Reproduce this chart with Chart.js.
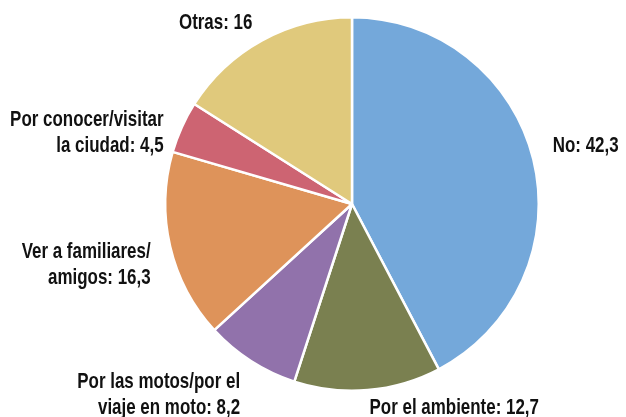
<!DOCTYPE html>
<html>
<head>
<meta charset="utf-8">
<script src="https://cdn.jsdelivr.net/npm/chart.js@4/dist/chart.umd.min.js"></script>
<style>
    html, body { margin: 0; padding: 0; background: #fff; }
    #wrap { width: 626px; height: 417px; }
</style>
</head>
<body>
<div id="wrap"><canvas id="pieChart" width="626" height="417"></canvas></div>
<script>
var categories = [
    ['No'],
    ['Por el ambiente'],
    ['Por las motos/por el', 'viaje en moto'],
    ['Ver a familiares/', 'amigos'],
    ['Por conocer/visitar', 'la ciudad'],
    ['Otras']
];
var values = [42.3, 12.7, 8.2, 16.3, 4.5, 16];
var sliceColors = ['#74a8da', '#7a8050', '#9172ab', '#de935a', '#cd6472', '#e0c97c'];

// condensed look: Liberation Sans squeezed horizontally
var FONT = 'bold 22px "Liberation Sans", Arial, sans-serif';
var SQUEEZE = 0.77;
var LINE_H = 26;

function fmt(v) {
    return String(v).replace('.', ',');
}

var outsideLabels = {
    id: 'outsideLabels',
    afterDraw: function (chart) {
        var ctx = chart.ctx;
        var arcs = chart.getDatasetMeta(0).data;
        ctx.save();
        ctx.font = FONT;
        ctx.fillStyle = '#111';
        ctx.textBaseline = 'middle';
        arcs.forEach(function (arc, i) {
            var mid = (arc.startAngle + arc.endAngle) / 2;
            var R = arc.outerRadius + 20;
            var c = Math.cos(mid), s = Math.sin(mid);
            var ax = arc.x + c * R;
            var ay = arc.y + s * R;
            var lines = categories[i].slice();
            lines[lines.length - 1] += ': ' + fmt(values[i]);
            var n = lines.length;
            var first;
            if (s < -0.7) {
                first = ay - (n - 1) * LINE_H;
            } else if (s > 0.7) {
                first = ay + 4;
            } else {
                var shift = c >= 0 ? -9 : 14;
                first = ay + shift - (n - 1) * LINE_H / 2;
            }
            var last = first + (n - 1) * LINE_H;
            if (last > chart.height - 9) {
                first -= last - (chart.height - 9);
            }
            ctx.textAlign = c >= 0 ? 'left' : 'right';
            lines.forEach(function (t, k) {
                ctx.save();
                ctx.translate(ax, first + k * LINE_H);
                ctx.scale(SQUEEZE, 1);
                ctx.fillText(t, 0, 0);
                ctx.restore();
            });
        });
        ctx.restore();
    }
};

new Chart(document.getElementById('pieChart'), {
    type: 'pie',
    data: {
        labels: categories,
        datasets: [{
            data: values,
            backgroundColor: sliceColors,
            borderColor: '#ffffff',
            borderWidth: 2.5
        }]
    },
    options: {
        responsive: false,
        animation: false,
        layout: {
            padding: { left: 164, right: 86, top: 16, bottom: 25 }
        },
        plugins: {
            legend: { display: false },
            tooltip: { enabled: false }
        }
    },
    plugins: [outsideLabels]
});
</script>
</body>
</html>
